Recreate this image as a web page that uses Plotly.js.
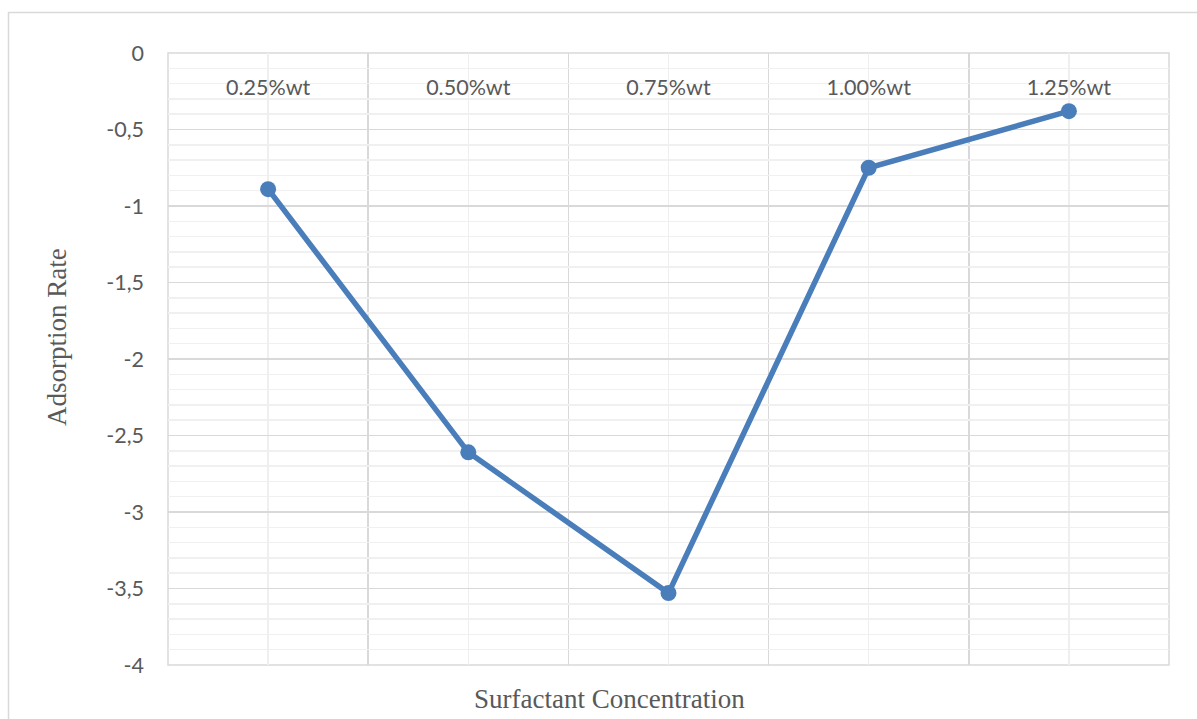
<!DOCTYPE html>
<html>
<head>
<meta charset="utf-8">
<script src="https://cdn.plot.ly/plotly-3.0.1.min.js"></script>
<style>
  html, body { margin: 0; padding: 0; background: #fff; }
  #chart { width: 1197px; height: 719px; }
</style>
</head>
<body>
<div id="chart"></div>
<script>
// Surfactant concentrations and measured adsorption rates
const categories = ['0.25%wt', '0.50%wt', '0.75%wt', '1.00%wt', '1.25%wt'];
const adsorptionRate = [-0.89, -2.61, -3.53, -0.75, -0.38];

// Value-axis ticks, written with decimal commas and plain hyphens
const yTickVals = [0, -0.5, -1, -1.5, -2, -2.5, -3, -3.5, -4];
const yTickText = ['0', '-0,5', '-1', '-1,5', '-2', '-2,5', '-3', '-3,5', '-4'];

const positions = categories.map((_, i) => i);

const W = 1197, H = 719;
const margin = { l: 168, r: 28, t: 53, b: 54 };
const plotW = W - margin.l - margin.r;
const plotH = H - margin.t - margin.b;
// pixel -> paper coordinates
const px = x => (x - margin.l) / plotW;
const py = y => 1 - (y - margin.t) / plotH;

const labelFont = { family: 'Lato, "Open Sans", sans-serif', size: 21.5, color: '#595959' };
const titleFont = { family: '"Liberation Serif", "Times New Roman", serif', size: 27, color: '#595959' };

const trace = {
  x: positions,
  y: adsorptionRate,
  type: 'scatter',
  mode: 'lines+markers',
  line: { color: '#4a7ebb', width: 5.5 },
  marker: { color: '#4a7ebb', size: 16 },
  hoverinfo: 'x+y'
};

const layout = {
  width: W,
  height: H,
  margin: margin,
  paper_bgcolor: '#ffffff',
  plot_bgcolor: '#ffffff',
  showlegend: false,
  xaxis: {
    range: [-0.5, 4.5],
    tickmode: 'array',
    tickvals: positions,
    ticktext: categories,
    anchor: 'free',
    position: 1,
    side: 'bottom',
    ticks: '',
    ticklabelstandoff: 19,
    tickfont: labelFont,
    showgrid: true,
    gridcolor: '#efefef',
    gridwidth: 1.5,
    minor: { tickmode: 'linear', tick0: -0.5, dtick: 1, showgrid: true, gridcolor: '#d9d9d9', gridwidth: 1.5, ticks: '' },
    showline: false,
    zeroline: false,
    fixedrange: true,
    title: { text: '' }
  },
  yaxis: {
    range: [-4, 0],
    tickmode: 'array',
    tickvals: yTickVals,
    ticktext: yTickText,
    ticks: '',
    ticklabelstandoff: 23,
    tickfont: labelFont,
    showgrid: true,
    gridcolor: '#d9d9d9',
    gridwidth: 1.5,
    minor: { tickmode: 'linear', dtick: 0.1, tick0: 0, showgrid: true, gridcolor: '#f0f0f0', gridwidth: 1.5, ticks: '' },
    showline: false,
    zeroline: false,
    fixedrange: true,
    title: { text: '' }
  },
  annotations: [
    {
      text: 'Surfactant Concentration',
      xref: 'paper', yref: 'paper',
      x: px(609), y: py(699),
      xanchor: 'center', yanchor: 'middle',
      showarrow: false,
      font: titleFont
    },
    {
      text: 'Adsorption Rate',
      xref: 'paper', yref: 'paper',
      x: px(57), y: py(337),
      xanchor: 'center', yanchor: 'middle',
      textangle: -90,
      showarrow: false,
      font: titleFont
    }
  ],
  shapes: [
    {
      // outer chart frame
      type: 'rect', xref: 'paper', yref: 'paper',
      x0: px(8.5), x1: px(1205), y0: py(12.5), y1: py(730),
      line: { color: '#d9d9d9', width: 1.5 },
      fillcolor: 'rgba(0,0,0,0)',
      layer: 'below'
    },
    {
      // plot-area border
      type: 'rect', xref: 'paper', yref: 'paper',
      x0: 0, x1: 1, y0: 0, y1: 1,
      line: { color: '#d9d9d9', width: 1.5 },
      fillcolor: 'rgba(0,0,0,0)',
      layer: 'below'
    }
  ]
};

Plotly.newPlot('chart', [trace], layout, { displayModeBar: false, staticPlot: true });
</script>
</body>
</html>
